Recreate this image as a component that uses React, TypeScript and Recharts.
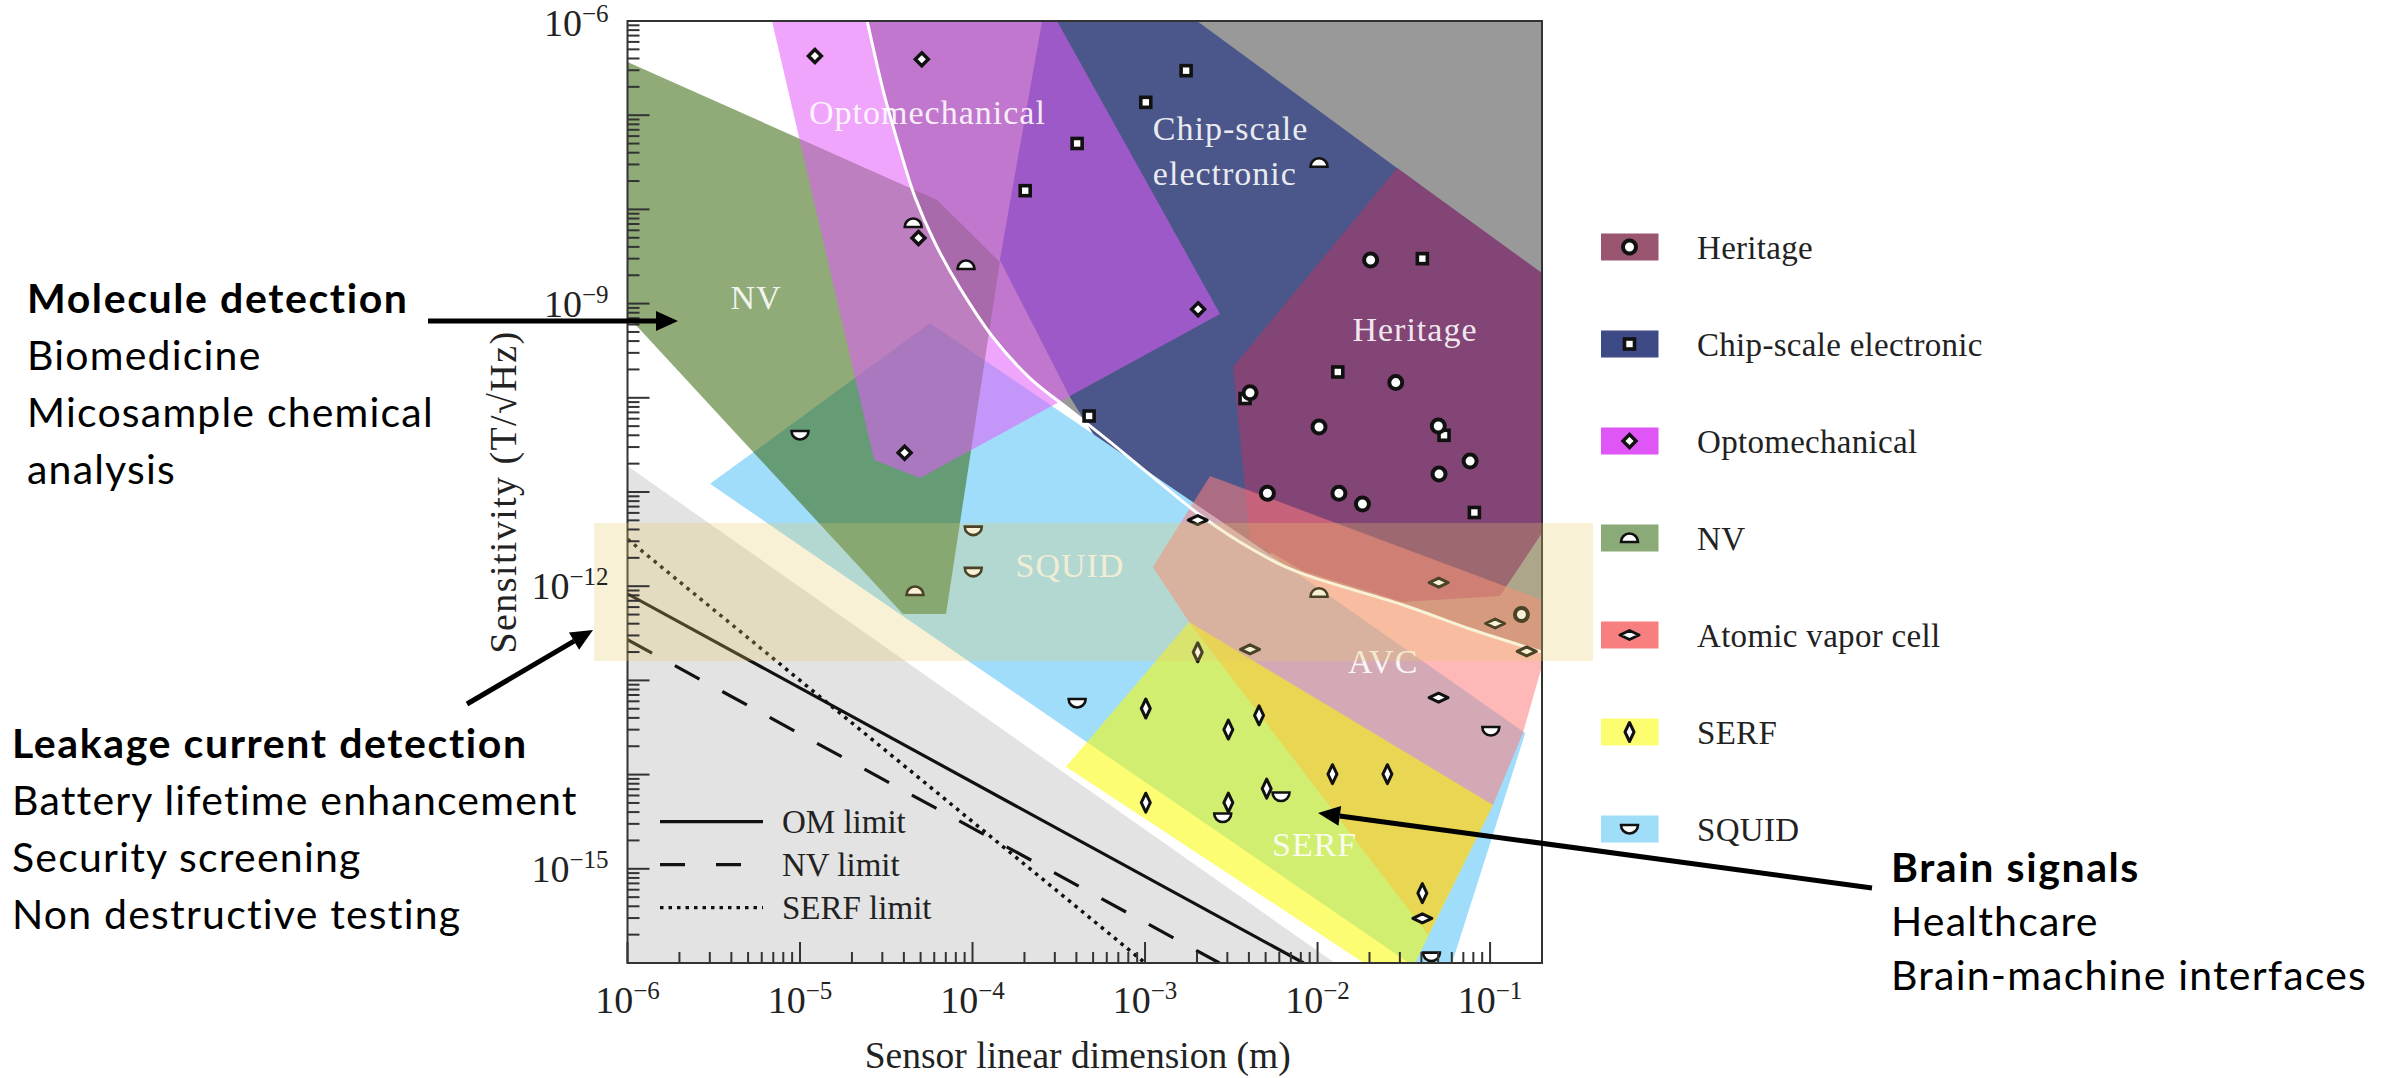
import React from 'react';
import { ScatterChart, Scatter, XAxis, YAxis, ReferenceArea, Legend } from 'recharts';

type Pt = { x: number; y: number };

const SERIF = "'Liberation Serif', 'Times New Roman', serif";
const SANS = "Lato, 'Open Sans', sans-serif";

// ---------- region outlines (x: sensor linear dimension in m, y: sensitivity in T/sqrt(Hz)) ----------
const thermalCurve: Pt[] = [
  { x: 2.45e-5, y: 1e-6 }, { x: 3.03e-5, y: 1.85e-7 }, { x: 3.8e-5, y: 4.27e-8 },
  { x: 4.64e-5, y: 1.35e-8 }, { x: 6.06e-5, y: 4.4e-9 }, { x: 8.46e-5, y: 1.46e-9 },
  { x: 1.31e-4, y: 4.42e-10 }, { x: 2.15e-4, y: 1.62e-10 }, { x: 3.67e-4, y: 7.42e-11 },
  { x: 6.27e-4, y: 3.4e-11 }, { x: 1.11e-3, y: 1.44e-11 }, { x: 2.08e-3, y: 5.7e-12 },
  { x: 4.06e-3, y: 2.54e-12 }, { x: 8.24e-3, y: 1.35e-12 }, { x: 3.13e-2, y: 6.32e-13 },
  { x: 7.66e-2, y: 3.51e-13 }, { x: 0.2, y: 2.0e-13 },
];
const grayCorner: Pt[] = [{ x: 0.2, y: 1e-6 }];
const belowLimitRegion: Pt[] = [{ x: 1e-6, y: 1.89e-11 }, { x: 1.26e-2, y: 1e-16 }, { x: 1e-6, y: 1e-16 }];
const chipRegion: Pt[] = [
  { x: 2.53e-4, y: 1e-6 }, { x: 2.0e-3, y: 1e-6 }, { x: 3.93e-2, y: 1.82e-8 },
  { x: 5.16e-3, y: 1.9e-12 }, { x: 5.48e-4, y: 3.15e-11 }, { x: 3.67e-4, y: 1.02e-10 },
  { x: 1.44e-4, y: 2.9e-9 },
];
const heritageRegion: Pt[] = [
  { x: 3.24e-3, y: 2.12e-10 }, { x: 2.89e-2, y: 2.75e-8 }, { x: 0.2, y: 2.11e-9 },
  { x: 0.2, y: 3.67e-12 }, { x: 0.114, y: 7.87e-13 }, { x: 3.13e-2, y: 6.8e-13 },
  { x: 8.24e-3, y: 1.45e-12 }, { x: 4.06e-3, y: 3.09e-12 },
];
const squidRegion: Pt[] = [
  { x: 3.01e-6, y: 1.22e-11 }, { x: 5.67e-5, y: 6.22e-10 }, { x: 7.92e-3, y: 1.31e-12 },
  { x: 0.16, y: 2.76e-14 }, { x: 6.02e-2, y: 1e-16 }, { x: 3.39e-2, y: 1e-16 },
];
const nvRegion: Pt[] = [
  { x: 1e-6, y: 3.67e-7 }, { x: 6.23e-5, y: 1.26e-8 }, { x: 1.44e-4, y: 2.76e-9 },
  { x: 7.02e-5, y: 5.07e-13 }, { x: 3.95e-5, y: 5.07e-13 }, { x: 1e-6, y: 7.39e-10 },
];
const optoRegion: Pt[] = [
  { x: 6.88e-6, y: 1e-6 }, { x: 3.09e-4, y: 1e-6 }, { x: 2.72e-3, y: 7.76e-10 },
  { x: 4.96e-5, y: 1.41e-11 }, { x: 2.69e-5, y: 2.19e-11 },
];
const avcRegion: Pt[] = [
  { x: 2.38e-3, y: 1.48e-11 }, { x: 0.2, y: 7.14e-13 }, { x: 0.2, y: 1.42e-13 },
  { x: 0.155, y: 2.76e-14 }, { x: 0.104, y: 4.76e-15 }, { x: 4.37e-2, y: 1.98e-16 },
  { x: 1.8e-3, y: 4.17e-13 }, { x: 1.11e-3, y: 1.6e-12 },
];
const serfRegion: Pt[] = [
  { x: 1.8e-3, y: 4.17e-13 }, { x: 0.104, y: 4.76e-15 }, { x: 3.67e-2, y: 1e-16 },
  { x: 1.86e-2, y: 1e-16 }, { x: 3.48e-4, y: 1.21e-14 },
];

// ---------- limit lines ----------
const omLimit: Pt[] = [{ x: 1e-6, y: 8.3e-13 }, { x: 8.3e-3, y: 1e-16 }];
const nvLimit: Pt[] = [{ x: 1e-6, y: 2.7e-13 }, { x: 2.7e-3, y: 1e-16 }];
const serfLimit: Pt[] = [{ x: 1e-6, y: 3.16e-12 }, { x: 1e-3, y: 1e-16 }];

// ---------- individual sensors ----------
const heritagePts: Pt[] = [
  { x: 2.03e-2, y: 2.9e-9 }, { x: 2.84e-2, y: 1.45e-10 }, { x: 4.06e-3, y: 1.13e-10 },
  { x: 1.02e-2, y: 4.9e-11 }, { x: 5.01e-2, y: 5.02e-11 }, { x: 7.66e-2, y: 2.13e-11 },
  { x: 5.06e-2, y: 1.55e-11 }, { x: 5.12e-3, y: 9.69e-12 }, { x: 1.33e-2, y: 9.69e-12 },
  { x: 1.82e-2, y: 7.46e-12 }, { x: 0.152, y: 5.01e-13 },
];
const chipPts: Pt[] = [
  { x: 1.73e-3, y: 2.97e-7 }, { x: 1.01e-3, y: 1.37e-7 }, { x: 4.04e-4, y: 5.01e-8 },
  { x: 2.02e-4, y: 1.58e-8 }, { x: 4.05e-2, y: 3.0e-9 }, { x: 1.31e-2, y: 1.88e-10 },
  { x: 3.8e-3, y: 9.83e-11 }, { x: 5.41e-2, y: 4.0e-11 }, { x: 8.11e-2, y: 6.06e-12 },
  { x: 4.74e-4, y: 6.41e-11 },
];
const optoPts: Pt[] = [
  { x: 1.22e-5, y: 4.25e-7 }, { x: 5.08e-5, y: 3.92e-7 }, { x: 4.86e-5, y: 4.97e-9 },
  { x: 4.04e-5, y: 2.61e-11 }, { x: 2.03e-3, y: 8.7e-10 },
];
const nvPts: Pt[] = [
  { x: 4.53e-5, y: 7.17e-9 }, { x: 9.17e-5, y: 2.57e-9 }, { x: 1.02e-2, y: 3.13e-8 },
  { x: 1.02e-2, y: 8.53e-13 }, { x: 4.64e-5, y: 8.89e-13 },
];
const avcPts: Pt[] = [
  { x: 2.02e-3, y: 5.04e-12 }, { x: 5.04e-2, y: 1.09e-12 }, { x: 0.107, y: 4.02e-13 },
  { x: 0.163, y: 2.03e-13 }, { x: 4.06e-3, y: 2.14e-13 }, { x: 5.03e-2, y: 6.55e-14 },
  { x: 4.05e-2, y: 2.98e-16 },
];
const serfPts: Pt[] = [
  { x: 2.02e-3, y: 1.99e-13 }, { x: 1.01e-3, y: 5.03e-14 }, { x: 4.58e-3, y: 4.26e-14 },
  { x: 3.04e-3, y: 3.01e-14 }, { x: 1.22e-2, y: 1.01e-14 }, { x: 2.54e-2, y: 1.01e-14 },
  { x: 5.07e-3, y: 7.1e-15 }, { x: 1.01e-3, y: 5.03e-15 }, { x: 3.04e-3, y: 5.05e-15 },
  { x: 4.05e-2, y: 5.51e-16 },
];
const squidPts: Pt[] = [
  { x: 1.0e-5, y: 4.03e-11 }, { x: 1.01e-4, y: 3.89e-12 }, { x: 1.01e-4, y: 1.42e-12 },
  { x: 4.04e-4, y: 5.76e-14 }, { x: 0.101, y: 2.9e-14 }, { x: 6.14e-3, y: 5.85e-15 },
  { x: 2.82e-3, y: 3.5e-15 }, { x: 4.57e-2, y: 1.17e-16 },
];

// ---------- in-plot region names ----------
const regionLabels = [
  { x: 5.48e-5, y: 8.07e-8, text: 'Optomechanical', anchor: 'middle' },
  { x: 1.11e-3, y: 5.45e-8, text: 'Chip-scale', anchor: 'start' },
  { x: 1.11e-3, y: 1.82e-8, text: 'electronic', anchor: 'start' },
  { x: 3.67e-2, y: 4.01e-10, text: 'Heritage', anchor: 'middle' },
  { x: 5.56e-6, y: 8.7e-10, text: 'NV', anchor: 'middle' },
  { x: 3.67e-4, y: 1.25e-12, text: 'SQUID', anchor: 'middle' },
  { x: 2.4e-2, y: 1.2e-13, text: 'AVC', anchor: 'middle' },
  { x: 9.62e-3, y: 1.37e-15, text: 'SERF', anchor: 'middle' },
];

// ---------- legend ----------
const legendNames = ['Heritage', 'Chip-scale electronic', 'Optomechanical', 'NV', 'Atomic vapor cell', 'SERF', 'SQUID'];
const legendColors = ['#9a5570', '#3e4a85', '#e055f5', '#8aaa78', '#f87f7f', '#fdfd70', '#a0ddf8'];
const legendMarkers = ['circle', 'square', 'diamond', 'dome', 'eye', 'tall', 'bowl'];
const limitNames = ['OM limit', 'NV limit', 'SERF limit'];

// ---------- axes ----------
const xDecades = [1e-6, 1e-5, 1e-4, 1e-3, 1e-2, 1e-1];
const yDecades = [1e-16, 1e-15, 1e-14, 1e-13, 1e-12, 1e-11, 1e-10, 1e-9, 1e-8, 1e-7, 1e-6];
const yLabelled = [-15, -12, -9, -6];
const mult = [1, 2, 3, 4, 5, 6, 7, 8, 9];
const xTicks = xDecades.flatMap((d) => mult.map((k) => d * k)).filter((v) => v < 0.1999);
const yTicks = yDecades.flatMap((d) => mult.map((k) => d * k)).filter((v) => v < 1.0001e-6);

// ---------- annotations ----------
const noteLeftTop = ['Molecule detection', 'Biomedicine', 'Micosample chemical', 'analysis'];
const noteLeftBottom = ['Leakage current detection', 'Battery lifetime enhancement', 'Security screening', 'Non destructive testing'];
const noteRight = ['Brain signals', 'Healthcare', 'Brain-machine interfaces'];

// ---------- rendering helpers ----------
function smoothPath(p: { x: number; y: number }[]) {
  let d = `M${p[0].x},${p[0].y}`;
  for (let i = 0; i < p.length - 1; i++) {
    const p0 = p[i - 1] || p[i];
    const p1 = p[i];
    const p2 = p[i + 1];
    const p3 = p[i + 2] || p2;
    const c1x = p1.x + (p2.x - p0.x) / 6;
    const c1y = p1.y + (p2.y - p0.y) / 6;
    const c2x = p2.x - (p3.x - p1.x) / 6;
    const c2y = p2.y - (p3.y - p1.y) / 6;
    d += `C${c1x},${c1y},${c2x},${c2y},${p2.x},${p2.y}`;
  }
  return d;
}

const polygon = (fill: string, opacity: number, smoothCount = 0) => (props: any) => {
  const pts = props.points as { x: number; y: number }[];
  if (!pts || pts.length < 2) return <g />;
  let d: string;
  if (smoothCount > 1) {
    d = smoothPath(pts.slice(0, smoothCount)) + pts.slice(smoothCount).map((p) => `L${p.x},${p.y}`).join('') + 'Z';
  } else {
    d = 'M' + pts.map((p) => `${p.x},${p.y}`).join('L') + 'Z';
  }
  return <path d={d} fill={fill} fillOpacity={opacity} stroke="none" />;
};

const stroke = (color: string, width: number, dash?: string, smooth = false) => (props: any) => {
  const pts = props.points as { x: number; y: number }[];
  if (!pts || pts.length < 2) return <g />;
  const d = smooth ? smoothPath(pts) : 'M' + pts.map((p) => `${p.x},${p.y}`).join('L');
  return <path d={d} fill="none" stroke={color} strokeWidth={width} strokeDasharray={dash} />;
};

const Nothing = () => <g />;

function Glyph({ kind, cx, cy }: { kind: string; cx: number; cy: number }) {
  const s = '#111';
  switch (kind) {
    case 'circle':
      return <circle cx={cx} cy={cy} r={6.5} fill="#fff" stroke={s} strokeWidth={4} />;
    case 'square':
      return <rect x={cx - 5} y={cy - 5} width={10} height={10} fill="#fff" stroke={s} strokeWidth={3.6} />;
    case 'diamond':
      return (
        <polygon points={`${cx},${cy - 6.5} ${cx + 6.5},${cy} ${cx},${cy + 6.5} ${cx - 6.5},${cy}`}
          fill="#fff" stroke={s} strokeWidth={3.4} />
      );
    case 'dome':
      return <path d={`M${cx - 8.5},${cy + 4} A8.5,8.5 0 0 1 ${cx + 8.5},${cy + 4} Z`} fill="#fff" stroke={s} strokeWidth={2.6} />;
    case 'bowl':
      return <path d={`M${cx - 8.5},${cy - 4} A8.5,8.5 0 0 0 ${cx + 8.5},${cy - 4} Z`} fill="#fff" stroke={s} strokeWidth={2.6} />;
    case 'eye':
      return (
        <polygon points={`${cx - 9.5},${cy} ${cx},${cy - 4.5} ${cx + 9.5},${cy} ${cx},${cy + 4.5}`}
          fill="#fff" stroke={s} strokeWidth={3} strokeLinejoin="round" />
      );
    case 'tall':
      return (
        <polygon points={`${cx},${cy - 9.5} ${cx + 4.5},${cy} ${cx},${cy + 9.5} ${cx - 4.5},${cy}`}
          fill="#fff" stroke={s} strokeWidth={3} strokeLinejoin="round" />
      );
    default:
      return <g />;
  }
}

const marker = (kind: string) => (p: any) => <Glyph kind={kind} cx={p.cx} cy={p.cy} />;

const RegionLabel = (p: any) => (
  <text x={p.cx} y={p.cy} textAnchor={p.payload.anchor} fontFamily={SERIF} fontSize={34}
    letterSpacing={1} fill="#ffffff" fillOpacity={0.9}>
    {p.payload.text}
  </text>
);

const XTick = (props: any) => {
  const { x, y, payload } = props;
  const lg = Math.log10(payload.value);
  const e = Math.round(lg);
  const major = Math.abs(lg - e) < 1e-6;
  return (
    <g>
      <line x1={x} y1={y} x2={x} y2={y - (major ? 21 : 11)} stroke="#333" strokeWidth={2} />
      {major && (
        <text x={x} y={y + 50} textAnchor="middle" fontFamily={SERIF} fontSize={38} fill="#222">
          10<tspan dy={-14} fontSize={25}>{'\u2212' + Math.abs(e)}</tspan>
        </text>
      )}
    </g>
  );
};

const YTick = (props: any) => {
  const { x, y, payload } = props;
  const lg = Math.log10(payload.value);
  const e = Math.round(lg);
  const major = Math.abs(lg - e) < 1e-6;
  const baseline = Math.max(y + 13, 36);
  return (
    <g>
      <line x1={x} y1={y} x2={x + (major ? 22 : 12)} y2={y} stroke="#333" strokeWidth={2} />
      {major && yLabelled.includes(e) && (
        <text x={x - 19} y={baseline} textAnchor="end" fontFamily={SERIF} fontSize={38} fill="#222">
          10<tspan dy={-14} fontSize={25}>{'\u2212' + Math.abs(e)}</tspan>
        </text>
      )}
    </g>
  );
};

const XTitle = (p: any) => {
  const vb = p.viewBox || { x: 627.5, y: 963, width: 914.5, height: 60 };
  return (
    <text x={vb.x + vb.width / 2 - 7} y={vb.y + 105} textAnchor="middle" fontFamily={SERIF} fontSize={37.5}
      fill="#222">
      Sensor linear dimension (m)
    </text>
  );
};

const YTitle = (p: any) => {
  const vb = p.viewBox || { x: 527.5, y: 21, width: 100, height: 942 };
  const cx = vb.x - 12;
  const cy = vb.y + vb.height / 2;
  return (
    <text x={cx} y={cy} transform={`rotate(-90 ${cx} ${cy})`} textAnchor="middle" fontFamily={SERIF}
      fontSize={38} letterSpacing={1.4} fill="#222">
      Sensitivity (T/√Hz)
    </text>
  );
};

const LegendBox = () => (
  <svg width={420} height={680} style={{ display: 'block' }}>
    {legendNames.map((name, i) => {
      const cy = 47 + i * 97;
      return (
        <g key={name}>
          <rect x={11} y={cy - 13.5} width={57.5} height={27} fill={legendColors[i]} />
          <Glyph kind={legendMarkers[i]} cx={39.5} cy={cy} />
          <text x={107} y={cy + 12} fontFamily={SERIF} fontSize={33} letterSpacing={0.3} fill="#222">{name}</text>
        </g>
      );
    })}
  </svg>
);

function Arrow({ x1, y1, x2, y2 }: { x1: number; y1: number; x2: number; y2: number }) {
  const dx = x2 - x1;
  const dy = y2 - y1;
  const L = Math.hypot(dx, dy);
  const ux = dx / L;
  const uy = dy / L;
  const hl = 22;
  const hw = 10;
  const bx = x2 - ux * hl;
  const by = y2 - uy * hl;
  return (
    <g>
      <line x1={x1} y1={y1} x2={bx} y2={by} stroke="#000" strokeWidth={5} />
      <polygon points={`${x2},${y2} ${bx - uy * hw},${by + ux * hw} ${bx + uy * hw},${by - ux * hw}`} fill="#000" />
    </g>
  );
}

function NoteBlock({ lines, x, y, gap }: { lines: string[]; x: number; y: number; gap: number }) {
  return (
    <g>
      {lines.map((t, i) => (
        <text key={t} x={x} y={y + i * gap} fontFamily={SANS} fontSize={41} letterSpacing={i === 0 ? 1.6 : 1.2}
          fontWeight={i === 0 ? 700 : 400} fill="#000">
          {t}
        </text>
      ))}
    </g>
  );
}

function Overlay() {
  const dashes = ['none', '25 31', '3.5 5'];
  return (
    <svg width={2400} height={1078} style={{ position: 'absolute', left: 0, top: 0, pointerEvents: 'none' }}>
      {limitNames.map((n, i) => {
        const y = 821.6 + i * 43;
        return (
          <g key={n}>
            <line x1={660} y1={y} x2={763} y2={y} stroke="#111" strokeWidth={3.2}
              strokeDasharray={dashes[i] === 'none' ? undefined : dashes[i]} />
            <text x={782} y={y + 11} fontFamily={SERIF} fontSize={33} fill="#222">{n}</text>
          </g>
        );
      })}
      <NoteBlock lines={noteLeftTop} x={27} y={313} gap={57} />
      <NoteBlock lines={noteLeftBottom} x={12} y={758} gap={57} />
      <NoteBlock lines={noteRight} x={1891} y={882} gap={54} />
      <Arrow x1={428} y1={321} x2={678} y2={321} />
      <Arrow x1={467} y1={704} x2={593} y2={630} />
      <Arrow x1={1872} y1={888} x2={1318} y2={813} />
    </svg>
  );
}

export default function App() {
  return (
    <div style={{ position: 'absolute', left: 0, top: 0, width: 2400, height: 1078, background: '#fff' }}>
      <ScatterChart width={2400} height={1078} margin={{ top: 21, right: 858, bottom: 55, left: 527.5 }}>
        <XAxis dataKey="x" type="number" scale="log" domain={[1e-6, 0.2]} allowDataOverflow ticks={xTicks}
          interval={0} tick={XTick} tickLine={false} axisLine={false} tickSize={0} tickMargin={0} height={60}
          label={{ content: XTitle }} zIndex={1000} />
        <YAxis dataKey="y" type="number" scale="log" domain={[1e-16, 1e-6]} allowDataOverflow ticks={yTicks}
          interval={0} tick={YTick} tickLine={false} axisLine={false} tickSize={0} tickMargin={0} width={100}
          label={{ content: YTitle }} zIndex={1000} />

        <Scatter data={belowLimitRegion} line={polygon('#e3e3e3', 1)} lineType="joint" shape={Nothing} isAnimationActive={false} legendType="none" />
        <Scatter data={[...thermalCurve, ...grayCorner]} line={polygon('#999999', 1, thermalCurve.length)} lineType="joint" shape={Nothing} isAnimationActive={false} legendType="none" />
        <Scatter data={chipRegion} line={polygon('#4b578a', 1)} lineType="joint" shape={Nothing} isAnimationActive={false} legendType="none" />
        <Scatter data={heritageRegion} line={polygon('#834476', 1)} lineType="joint" shape={Nothing} isAnimationActive={false} legendType="none" />
        <Scatter data={squidRegion} line={polygon('#a0ddfa', 1)} lineType="joint" shape={Nothing} isAnimationActive={false} legendType="none" />
        <Scatter data={nvRegion} line={polygon('#35660a', 0.55)} lineType="joint" shape={Nothing} isAnimationActive={false} legendType="none" />
        <Scatter data={optoRegion} line={polygon('#e15bfa', 0.55)} lineType="joint" shape={Nothing} isAnimationActive={false} legendType="none" />
        <Scatter data={avcRegion} line={polygon('#fd7e7e', 0.55)} lineType="joint" shape={Nothing} isAnimationActive={false} legendType="none" />
        <Scatter data={serfRegion} line={polygon('#fbfb00', 0.55)} lineType="joint" shape={Nothing} isAnimationActive={false} legendType="none" />

        <Scatter data={omLimit} line={stroke('#111', 3.2)} lineType="joint" shape={Nothing} isAnimationActive={false} legendType="none" />
        <Scatter data={nvLimit} line={stroke('#111', 3.2, '28 26')} lineType="joint" shape={Nothing} isAnimationActive={false} legendType="none" />
        <Scatter data={serfLimit} line={stroke('#111', 3.5, '3.5 5')} lineType="joint" shape={Nothing} isAnimationActive={false} legendType="none" />
        <Scatter data={thermalCurve} line={stroke('#ffffff', 3, undefined, true)} lineType="joint" shape={Nothing} isAnimationActive={false} legendType="none" />

        <Scatter data={regionLabels} shape={RegionLabel} isAnimationActive={false} legendType="none" />

        <Scatter data={chipPts} shape={marker('square')} isAnimationActive={false} legendType="none" />
        <Scatter data={heritagePts} shape={marker('circle')} isAnimationActive={false} legendType="none" />
        <Scatter data={nvPts} shape={marker('dome')} isAnimationActive={false} legendType="none" />
        <Scatter data={optoPts} shape={marker('diamond')} isAnimationActive={false} legendType="none" />
        <Scatter data={avcPts} shape={marker('eye')} isAnimationActive={false} legendType="none" />
        <Scatter data={serfPts} shape={marker('tall')} isAnimationActive={false} legendType="none" />
        <Scatter data={squidPts} shape={marker('bowl')} isAnimationActive={false} legendType="none" />

        <ReferenceArea x1={1e-6} x2={0.2} y1={1e-16} y2={1e-6} fill="none" stroke="#333" strokeWidth={2}
          ifOverflow="visible" zIndex={1100} />
        <ReferenceArea x1={6.4e-7} x2={0.395} y1={1.61e-13} y2={4.69e-12} fill="rgb(232,205,100)" fillOpacity={0.27}
          stroke="none" ifOverflow="visible" zIndex={1500} />

        <Legend layout="vertical" align="center" verticalAlign="middle" content={LegendBox}
          wrapperStyle={{ left: 1590, top: 200, width: 420, height: 680 }} />
      </ScatterChart>
      <Overlay />
    </div>
  );
}
